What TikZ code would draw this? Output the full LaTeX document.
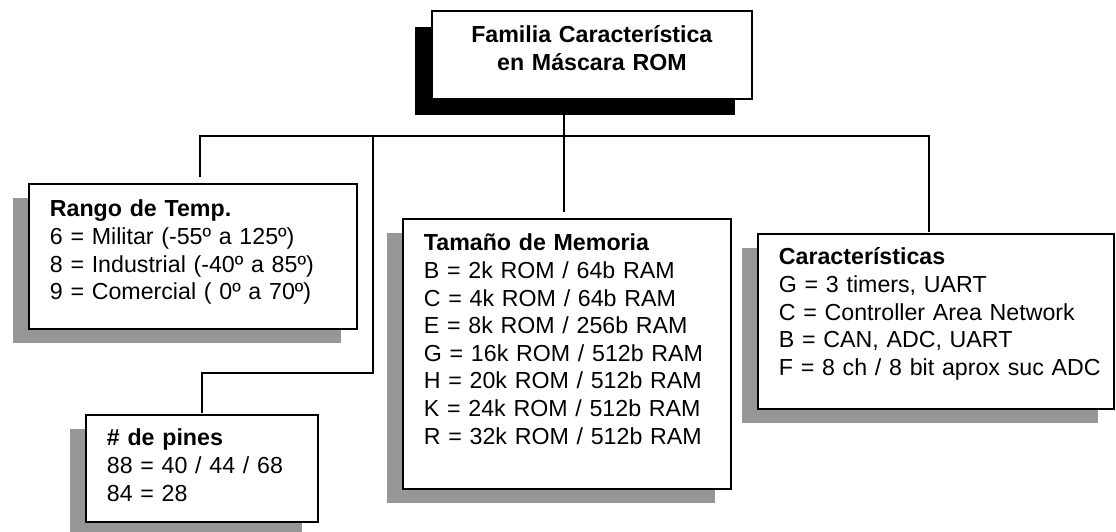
\documentclass[tikz,border=0pt]{standalone}
\usepackage{fontspec}
\setmainfont{Liberation Sans}
\usetikzlibrary{shadows}
\tikzset{
  link/.style={draw=black, line width=2.8pt},
  boxbase/.style={draw=black, line width=1.8pt, fill=white, rectangle, anchor=north west, inner sep=0pt,
    font=\fontsize{23.2}{27.6}\selectfont},
  panel/.style={boxbase, align=left, execute at begin node={\leftskip=21pt},
    drop shadow={shadow xshift=-16pt, shadow yshift=-14pt, fill=black!41, opacity=1}},
  rootpanel/.style={boxbase, align=center,
    drop shadow={shadow xshift=-17pt, shadow yshift=-16pt, fill=black, opacity=1}}
}

\begin{document}
\begin{tikzpicture}[x=1pt, y=-1pt]
  \useasboundingbox (0,0) rectangle (1116,531);

  \node[rootpanel, text width=320pt, text height=32pt, text depth=56pt] (title) at (431,10)
    {\textbf{Familia Característica}\\\textbf{en Máscara ROM}};
  \node[panel, text width=328pt, text height=33pt, text depth=112pt] (temp) at (28,183)
    {\textbf{Rango de Temp.}\\6 = Militar (-55º a 125º)\\8 = Industrial (-40º a 85º)\\9 = Comercial ( 0º a 70º)};
  \node[panel, text width=232pt, text height=31pt, text depth=76pt] (pines) at (85,414)
    {\textbf{\# de pines}\\88 = 40 / 44 / 68\\84 = 28};
  \node[panel, text width=328pt, text height=32pt, text depth=238pt] (mem) at (402,218)
    {\textbf{Tamaño de Memoria}\\B = 2k ROM / 64b RAM\\C = 4k ROM / 64b RAM\\E = 8k ROM / 256b RAM\\G = 16k ROM / 512b RAM\\H = 20k ROM / 512b RAM\\K = 24k ROM / 512b RAM\\R = 32k ROM / 512b RAM};
  \node[panel, text width=356pt, text height=31pt, text depth=144pt] (feat) at (757,233)
    {\textbf{Características}\\G = 3 timers, UART\\C = Controller Area Network\\B = CAN, ADC, UART\\F = 8 ch / 8 bit aprox suc ADC};

  \coordinate (hub) at (564,136);
  \coordinate (split) at (373,136);
  \coordinate (elbow) at (373,373);

  % tree lines
  \draw[link, shorten >=6pt] (title.south -| hub) -- (mem.north -| hub);
  \draw[link, shorten <=6pt, shorten >=1pt] ([xshift=7pt]temp.north) |- ([xshift=-7pt]feat.north |- hub) -- ([xshift=-7pt]feat.north);
  \draw[link, shorten >=1pt] (split) -- (elbow) -| (pines.north);
\end{tikzpicture}
\end{document}
